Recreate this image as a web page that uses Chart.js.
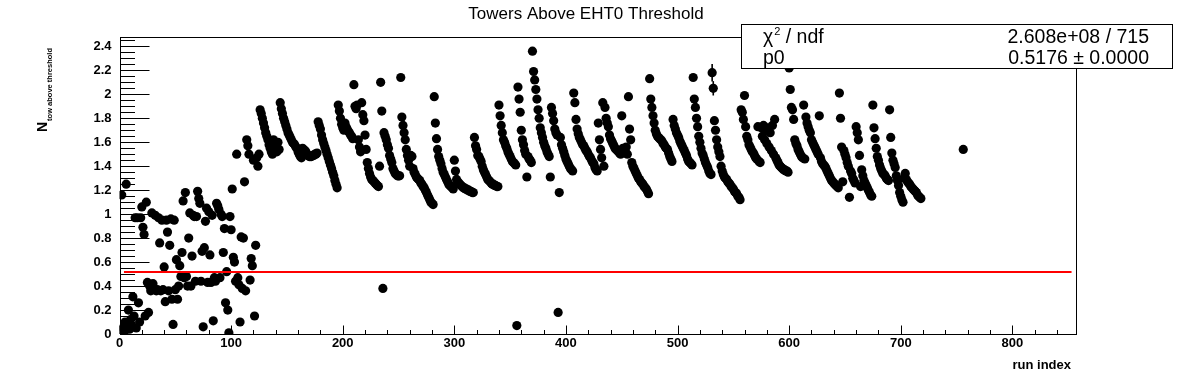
<!DOCTYPE html>
<html><head><meta charset="utf-8">
<script src="https://cdn.jsdelivr.net/npm/chart.js@4.4.1/dist/chart.umd.min.js"></script>
<style>html,body{margin:0;padding:0;background:#fff;}canvas{display:block;}</style>
</head><body>
<canvas id="c" width="1196" height="372"></canvas>
<script>
const chartTitle = 'Towers Above EHT0 Threshold';
const xAxisTitle = 'run index';
const yAxisTitleMain = 'N';
const yAxisTitleSub = 'tow above threshold';

// run index of first value in towersAbove
const firstRun = 1;
const towersAbove = [
0.03,1.16,0.05,0.01,0.10,1.25,0.08,0.20,0.04,0.12,
0.07,0.31,0.15,0.97,0.05,0.97,0.26,0.10,0.97,1.06,
0.89,0.83,0.15,1.10,0.43,0.18,0.40,0.36,1.01,0.42,
0.37,0.99,0.36,0.37,0.97,0.76,0.36,0.95,0.37,0.56,
0.27,0.95,0.85,0.36,0.74,0.96,0.29,0.08,0.95,0.37,
0.62,0.29,0.40,0.57,0.48,0.68,1.11,0.47,1.18,0.48,
0.40,0.80,1.01,0.40,0.65,0.99,0.98,0.44,0.98,1.19,
1.13,1.09,0.44,0.69,0.06,0.72,0.94,1.05,0.43,1.02,
0.66,0.43,0.99,0.11,0.47,0.44,1.09,1.07,1.04,0.47,
1.00,0.98,0.68,0.88,0.26,0.52,0.20,0.01,0.98,0.87,
1.21,0.64,0.60,0.44,1.50,0.47,0.41,0.10,0.81,0.38,
0.80,1.27,0.36,1.62,1.57,1.50,0.45,0.63,0.57,1.45,
0.15,0.74,1.47,1.40,1.50,1.87,1.84,1.80,1.76,1.72,
1.68,1.65,1.62,1.58,1.55,1.52,1.50,1.62,1.58,1.55,
1.52,1.60,1.54,1.93,1.88,1.84,1.80,1.77,1.74,1.71,
1.68,1.66,1.64,1.62,1.60,1.59,1.58,1.56,1.55,1.52,
1.50,1.48,1.47,1.55,1.54,1.53,1.52,1.50,1.49,1.48,
1.48,1.48,1.49,1.49,1.50,1.50,1.51,1.77,1.74,1.71,
1.66,1.62,1.59,1.56,1.53,1.50,1.47,1.44,1.41,1.38,
1.35,1.32,1.28,1.25,1.22,1.91,1.86,1.80,1.75,1.72,
1.70,1.76,1.73,1.71,1.69,1.68,1.66,1.65,1.63,2.08,
1.90,1.88,1.91,1.62,1.56,1.52,1.93,1.83,1.78,1.66,
1.54,1.43,1.38,1.34,1.31,1.29,1.28,1.27,1.26,1.25,
1.24,1.23,1.40,2.10,1.86,0.38,1.68,1.65,1.62,1.58,
1.55,1.49,1.46,1.43,1.38,1.36,1.34,1.33,1.32,1.32,
1.32,2.14,1.81,1.74,1.68,1.62,1.54,1.49,1.45,1.40,
1.49,1.48,1.38,1.35,1.33,1.31,1.30,1.29,1.28,1.26,
1.25,1.23,1.22,1.20,1.18,1.16,1.14,1.12,1.10,1.09,
1.08,1.98,1.76,1.63,1.54,1.48,1.45,1.42,1.38,1.35,
1.33,1.31,1.29,1.27,1.25,1.24,1.23,1.22,1.21,1.45,
1.36,1.29,1.27,1.26,1.25,1.24,1.23,1.22,1.22,1.21,
1.21,1.20,1.20,1.19,1.19,1.18,1.18,1.64,1.57,1.54,
1.49,1.48,1.46,1.44,1.40,1.37,1.35,1.33,1.31,1.29,
1.28,1.27,1.26,1.25,1.25,1.24,1.24,1.23,1.23,1.91,
1.82,1.74,1.68,1.62,1.60,1.57,1.55,1.52,1.50,1.48,
1.46,1.44,1.43,1.42,1.41,0.07,2.06,1.96,1.85,1.70,
1.62,1.58,1.53,1.50,1.31,1.48,1.46,1.45,1.43,2.36,
2.19,2.12,2.04,1.96,1.87,1.80,1.72,1.68,1.64,1.60,
1.57,1.55,1.52,1.50,1.48,1.31,1.89,1.84,1.78,1.71,
1.68,1.66,0.18,1.18,1.64,1.58,1.55,1.52,1.49,1.46,
1.44,1.42,1.40,1.38,1.37,1.36,2.01,1.93,1.79,1.71,
1.67,1.64,1.62,1.60,1.58,1.57,1.55,1.53,1.52,1.50,
1.48,1.47,1.45,1.43,1.42,1.39,1.37,1.36,1.76,1.62,
1.54,1.47,1.93,1.40,1.89,1.80,1.76,1.73,1.66,1.63,
1.61,1.59,1.57,1.55,1.54,1.53,1.52,1.51,1.50,1.82,
1.55,1.53,1.52,1.56,1.50,1.98,1.71,1.62,1.43,1.40,
1.38,1.36,1.34,1.32,1.30,1.29,1.27,1.26,1.25,1.23,
1.22,1.21,1.19,1.17,2.13,1.96,1.89,1.82,1.76,1.70,
1.67,1.65,1.64,1.63,1.62,1.61,1.59,1.58,1.56,1.55,
1.54,1.51,1.48,1.46,1.44,1.79,1.74,1.71,1.68,1.66,
1.64,1.61,1.59,1.57,1.55,1.53,1.51,1.49,1.46,1.44,
1.43,1.42,1.41,2.14,1.96,1.89,1.80,1.73,1.65,1.60,
1.55,1.51,1.49,1.46,1.43,1.41,1.39,1.36,1.34,1.33,
2.18,2.05,1.78,1.70,1.62,1.56,1.52,1.48,1.40,1.36,
1.33,1.31,1.30,1.29,1.27,1.26,1.25,1.23,1.22,1.21,
1.19,1.18,1.17,1.15,1.14,1.12,1.87,1.85,1.79,1.99,
1.73,1.65,1.62,1.58,1.56,1.54,1.52,1.51,1.49,1.47,
1.46,1.73,1.44,1.43,1.72,1.65,1.74,1.62,1.70,1.59,
1.72,1.56,1.68,1.53,1.74,1.50,1.79,1.47,1.45,1.43,
1.41,1.40,1.39,1.38,1.37,1.37,1.36,1.36,1.35,2.22,
2.04,1.89,1.87,1.79,1.62,1.59,1.57,1.54,1.52,1.50,
1.48,1.47,1.91,1.46,1.81,1.76,1.73,1.70,1.68,1.62,
1.60,1.58,1.56,1.54,1.52,1.50,1.82,1.47,1.44,1.42,
1.41,1.40,1.38,1.36,1.34,1.32,1.30,1.28,1.27,1.26,
1.25,1.24,1.23,1.22,2.01,1.80,1.56,1.27,1.53,1.50,
1.47,1.43,1.40,1.14,1.36,1.34,1.30,1.28,1.26,1.73,
1.68,1.62,1.49,1.23,1.37,1.32,1.28,1.26,1.24,1.22,
1.20,1.18,1.16,1.15,1.91,1.72,1.63,1.55,1.48,1.45,
1.41,1.38,1.36,1.34,1.33,1.32,1.30,1.29,1.28,1.87,
1.64,1.51,1.45,1.42,1.39,1.32,1.28,1.24,1.18,1.15,
1.12,1.10,1.30,1.34,1.29,1.27,1.26,1.25,1.23,1.22,
1.21,1.20,1.19,1.18,1.16,1.15,1.14,1.13
];
const extraRuns = [756];
const extraValues = [1.54];
const errorRuns = [531, 532];
const errorSizes = [0.073, 0.06];

const fitP0 = 0.5176;
const fitRange = [4, 853];
const statsLabels = ['\u03C7', 'p0'];
const statsValues = ['2.608e+08 / 715', '0.5176 \u00B1 0.0000'];

const xTickLabels = [0, 100, 200, 300, 400, 500, 600, 700, 800];
const yTickLabels = [0, 0.2, 0.4, 0.6, 0.8, 1, 1.2, 1.4, 1.6, 1.8, 2, 2.2, 2.4];
const xRange = [0, 857];
const yRange = [0, 2.478];
const xMinorStep = 20, yMinorStep = 0.05;

const FONT = "'Liberation Sans', Arial, Helvetica, sans-serif";

const points = towersAbove.map((v, i) => ({x: firstRun + i, y: v}))
  .concat(extraRuns.map((r, i) => ({x: r, y: extraValues[i]})));
const fitLine = [{x: fitRange[0], y: fitP0}, {x: fitRange[1], y: fitP0}];

const rootStyle = {
  id: 'rootStyle',
  beforeDatasetsDraw(chart) {
    const {ctx, chartArea: a, scales: {x, y}} = chart;
    ctx.save();
    ctx.strokeStyle = '#000';
    ctx.lineWidth = 1;
    const L = Math.round(a.left) + 0.5, R = Math.round(a.right) + 0.5;
    const T = Math.round(a.top) + 0.5, B = Math.round(a.bottom) + 0.5;
    ctx.strokeRect(L, T, R - L, B - T);
    ctx.beginPath();
    for (let k = 0; k * yMinorStep <= yRange[1] + 1e-9; k++) {
      const major = k % 4 === 0;
      const py = Math.round(y.getPixelForValue(k * yMinorStep)) + 0.5;
      ctx.moveTo(L, py);
      ctx.lineTo(L + (major ? 29 : 14.5), py);
    }
    for (let k = 0; k * xMinorStep <= xRange[1]; k++) {
      const major = k % 5 === 0;
      const px = Math.round(x.getPixelForValue(k * xMinorStep)) + 0.5;
      ctx.moveTo(px, B);
      ctx.lineTo(px, B - (major ? 9 : 4.5));
    }
    ctx.stroke();
    ctx.restore();
  },
  afterDatasetsDraw(chart) {
    const {ctx, scales: {x, y}} = chart;
    ctx.save();
    ctx.strokeStyle = '#000';
    ctx.lineWidth = 1.6;
    errorRuns.forEach((r, i) => {
      const v = towersAbove[r - firstRun];
      const px = x.getPixelForValue(r);
      ctx.beginPath();
      ctx.moveTo(px, y.getPixelForValue(v + errorSizes[i]));
      ctx.lineTo(px, y.getPixelForValue(v - errorSizes[i]));
      ctx.stroke();
    });
    ctx.restore();
  },
  afterDraw(chart) {
    const {ctx} = chart;
    ctx.save();
    ctx.fillStyle = '#000';
    // title
    ctx.font = `17px ${FONT}`;
    ctx.textAlign = 'center';
    ctx.textBaseline = 'alphabetic';
    ctx.fillText(chartTitle, 586, 19);
    // x axis title
    ctx.font = `bold 13px ${FONT}`;
    ctx.textAlign = 'right';
    ctx.fillText(xAxisTitle, 1071, 369);
    // y axis title rotated
    ctx.save();
    ctx.translate(46.7, 132);
    ctx.rotate(-Math.PI / 2);
    ctx.textAlign = 'left';
    ctx.font = `bold 14px ${FONT}`;
    ctx.fillText(yAxisTitleMain, 0, 0);
    const nW = ctx.measureText(yAxisTitleMain).width;
    ctx.font = `bold 7.5px ${FONT}`;
    ctx.fillText(yAxisTitleSub, nW + 1, 5);
    ctx.restore();
    // stats box
    ctx.fillStyle = '#fff';
    ctx.fillRect(741, 24, 431, 44);
    ctx.strokeStyle = '#000';
    ctx.lineWidth = 1;
    ctx.strokeRect(741.5, 24.5, 431, 44);
    ctx.fillStyle = '#000';
    ctx.textAlign = 'left';
    ctx.font = `19.5px ${FONT}`;
    ctx.fillText(statsLabels[0], 763, 42.7);
    let cx = 763 + ctx.measureText(statsLabels[0]).width;
    ctx.font = `11px ${FONT}`;
    ctx.fillText('2', cx + 1, 35);
    cx += 1 + ctx.measureText('2').width;
    ctx.font = `19.5px ${FONT}`;
    ctx.fillText(' / ndf', cx, 42.7);
    ctx.fillText(statsLabels[1], 763, 64);
    ctx.textAlign = 'right';
    ctx.fillText(statsValues[0], 1149, 42.7);
    ctx.fillText(statsValues[1], 1149, 64);
    ctx.restore();
  }
};

new Chart(document.getElementById('c'), {
  type: 'scatter',
  data: {
    datasets: [
      {
        data: points,
        order: 1,
        pointRadius: 4.6,
        pointHoverRadius: 4.6,
        pointBackgroundColor: '#000',
        pointBorderWidth: 0,
        showLine: false
      },
      {
        type: 'line',
        data: fitLine,
        order: 0,
        borderColor: '#ff0000',
        borderWidth: 2,
        pointRadius: 0,
        fill: false
      }
    ]
  },
  options: {
    responsive: false,
    animation: false,
    events: [],
    layout: {padding: {top: 37, right: 120, left: 0, bottom: 0}},
    plugins: {legend: {display: false}, tooltip: {enabled: false}, title: {display: false}},
    scales: {
      x: {
        type: 'linear', min: xRange[0], max: xRange[1],
        afterFit(s) { s.height = 38; },
        afterBuildTicks(s) { s.ticks = xTickLabels.map(v => ({value: v})); },
        grid: {display: false, drawTicks: false},
        border: {display: false},
        ticks: {padding: 2, color: '#000', autoSkip: false, maxRotation: 0,
          font: {family: FONT, size: 13, weight: 'bold'},
          callback: v => String(v)}
      },
      y: {
        type: 'linear', min: yRange[0], max: yRange[1],
        afterFit(s) { s.width = 119.5; },
        afterBuildTicks(s) { s.ticks = yTickLabels.map(v => ({value: v})); },
        grid: {display: false, drawTicks: false},
        border: {display: false},
        ticks: {padding: 8, color: '#000', autoSkip: false,
          font: {family: FONT, size: 13, weight: 'bold'},
          callback: v => String(Math.round(v * 10) / 10)}
      }
    }
  },
  plugins: [rootStyle]
});
</script>
</body></html>
